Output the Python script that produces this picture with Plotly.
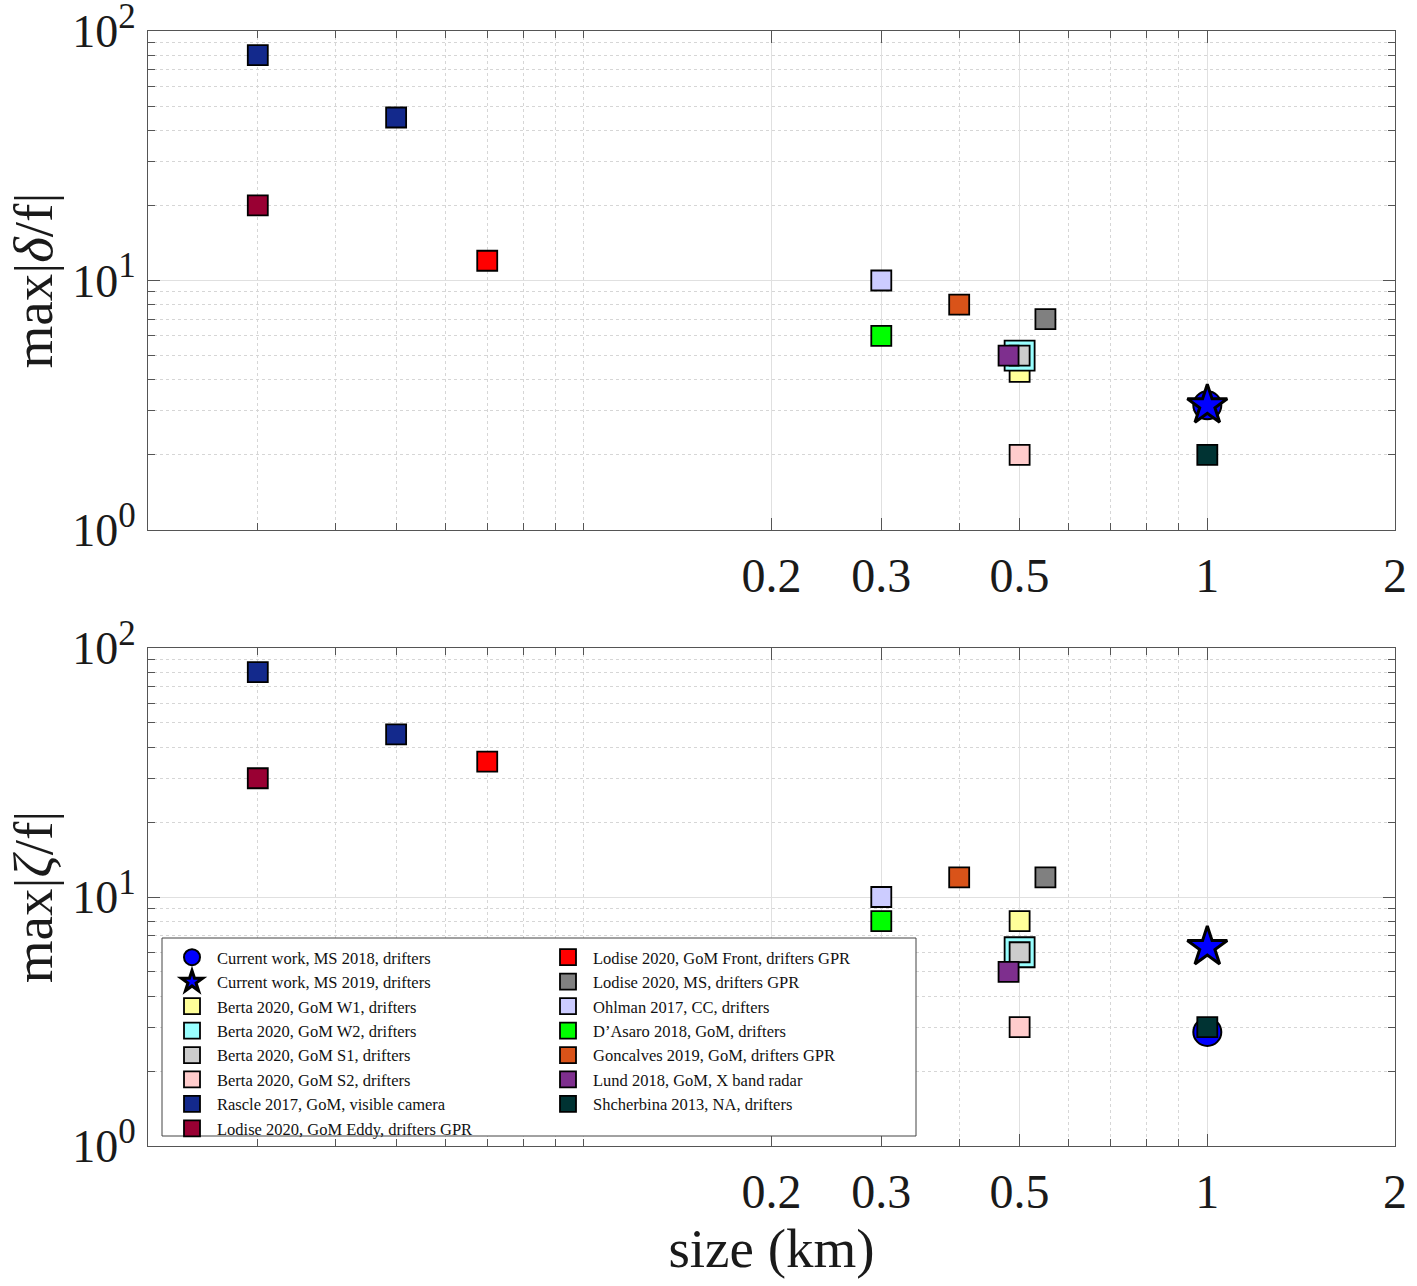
import numpy as np
import plotly.graph_objects as go
from plotly.subplots import make_subplots

# ---------------- data ----------------
studies = [
    "Current work, MS 2018, drifters",
    "Current work, MS 2019, drifters",
    "Berta 2020, GoM W1, drifters",
    "Berta 2020, GoM W2, drifters",
    "Berta 2020, GoM S1, drifters",
    "Berta 2020, GoM S2, drifters",
    "Rascle 2017, GoM, visible camera",
    "Lodise 2020, GoM Eddy, drifters GPR",
    "Lodise 2020, GoM Front, drifters GPR",
    "Lodise 2020, MS, drifters GPR",
    "Ohlman 2017, CC, drifters",
    "D\u2019Asaro 2018, GoM, drifters",
    "Goncalves 2019, GoM, drifters GPR",
    "Lund 2018, GoM, X band radar",
    "Shcherbina 2013, NA, drifters",
]
size_km = [
    [1.0], [1.0], [0.5], [0.5], [0.5], [0.5], [0.03, 0.05], [0.03],
    [0.07], [0.55], [0.3], [0.3], [0.4], [0.48], [1.0],
]
max_div = [
    [3.16], [3.16], [4.3], [5.0], [5.0], [2.0], [80, 45], [20],
    [12], [7.0], [10], [6.0], [8.0], [5.0], [2.0],
]
max_vort = [
    [2.87], [6.3], [8.0], [6.0], [6.0], [3.0], [80, 45], [30],
    [35], [12], [10], [8.0], [12], [5.0], [3.0],
]
x_tick_vals = [0.2, 0.3, 0.5, 1, 2]
x_tick_text = ["0.2", "0.3", "0.5", "1", "2"]
y_tick_vals = [1, 10, 100]
y_exponents = ["0", "1", "2"]

# ---------------- styles ----------------
colors = ["#0000ff", "#0000ff", "#ffff99", "#99ffff", "#cccccc", "#ffcccc",
          "#13298c", "#990033", "#ff0000", "#808080", "#ccccff", "#00ff00",
          "#d95319", "#7e2f8e", "#003333"]
symbols = ["circle", "star"] + ["square"] * 13
msizes = [28, 30, 20, 30, 20, 20, 20, 20, 20, 20, 20, 20, 20, 20, 20]
lwidths = [2, 3] + [1.8] * 13

FONT = "Liberation Serif"
TXT = "#1a1a1a"
y_tick_text = ["10<sup><span style='font-size:35px'>%s</span></sup>" % e
               for e in y_exponents]

fig = make_subplots(rows=2, cols=1, vertical_spacing=0.1)

for i, name in enumerate(studies):
    leg = "legend" if i < 8 else "legend2"
    for row, vals in ((1, max_div[i]), (2, max_vort[i])):
        fig.add_trace(go.Scatter(
            x=size_km[i], y=vals, mode="markers", name=name,
            legendgroup=name, showlegend=(row == 2), legend=leg,
            marker=dict(symbol=symbols[i], size=msizes[i], color=colors[i],
                        line=dict(color="#000000", width=lwidths[i])),
        ), row=row, col=1)

axis_line = "#555555"
minor_x = [0.03, 0.04, 0.05, 0.06, 0.07, 0.08, 0.09, 0.1, 0.4, 0.6, 0.7, 0.8, 0.9]
minor_y = [2, 3, 4, 5, 6, 7, 8, 9, 20, 30, 40, 50, 60, 70, 80, 90]

xcommon = dict(
    type="log", range=[np.log10(0.02), np.log10(2)],
    tickmode="array", tickvals=x_tick_vals, ticktext=x_tick_text,
    ticks="inside", ticklen=12, tickwidth=1, tickcolor=axis_line,
    showline=True, linecolor=axis_line, linewidth=1, mirror="ticks",
    showgrid=True, gridcolor="#e0e0e0", gridwidth=1,
    zeroline=False,
    tickfont=dict(family=FONT, size=48, color=TXT),
    ticklabelstandoff=3, ticklabeloverflow="allow",
    minor=dict(tickmode="array", tickvals=minor_x, ticks="inside", ticklen=7,
               tickcolor=axis_line, showgrid=True, gridcolor="#d6d6d6",
               griddash="dot", gridwidth=1),
)
ycommon = dict(
    type="log", range=[0, 2],
    tickmode="array", tickvals=y_tick_vals, ticktext=y_tick_text,
    ticks="inside", ticklen=12, tickwidth=1, tickcolor=axis_line,
    showline=True, linecolor=axis_line, linewidth=1, mirror="ticks",
    showgrid=True, gridcolor="#e0e0e0", gridwidth=1,
    zeroline=False,
    tickfont=dict(family=FONT, size=46, color=TXT),
    ticklabelstandoff=2, ticklabeloverflow="allow",
    minor=dict(tickmode="array", tickvals=minor_y, ticks="inside", ticklen=7,
               tickcolor=axis_line, showgrid=True, gridcolor="#d6d6d6",
               griddash="dot", gridwidth=1),
)

fig.update_xaxes(**xcommon)
fig.update_yaxes(**ycommon)
fig.update_layout(
    xaxis=dict(domain=[0, 1]),
    xaxis2=dict(domain=[0, 1],
                title=dict(text="size (km)", standoff=8,
                           font=dict(family=FONT, size=55, color=TXT))),
    yaxis=dict(domain=[0.5525, 1],
               title=dict(text="max|<i>\u03b4</i>/f|", standoff=2,
                          font=dict(family=FONT, size=55, color=TXT))),
    yaxis2=dict(domain=[0, 0.4466],
                title=dict(text="max|<i>\u03b6</i>/f|", standoff=2,
                           font=dict(family=FONT, size=55, color=TXT))),
)

# legend box
PX0, PW, PY1, PH = 148, 1247, 1146, 1115
fig.add_shape(type="rect", xref="paper", yref="paper",
              x0=(162 - PX0) / PW, x1=(916 - PX0) / PW,
              y0=(PY1 - 1136) / PH, y1=(PY1 - 938) / PH,
              fillcolor="white", line=dict(color="#444444", width=1),
              layer="above")

legfont = dict(family=FONT, size=16.5, color="#111111")
fig.update_layout(
    width=1417, height=1286,
    margin=dict(l=148, r=22, t=31, b=140, autoexpand=False),
    paper_bgcolor="white", plot_bgcolor="white",
    font=dict(family=FONT),
    legend=dict(x=(167 - PX0) / PW, y=(PY1 - 940) / PH,
                xanchor="left", yanchor="top", bgcolor="rgba(0,0,0,0)",
                borderwidth=0, font=legfont, tracegroupgap=0, itemwidth=40),
    legend2=dict(x=(543 - PX0) / PW, y=(PY1 - 940) / PH,
                 xanchor="left", yanchor="top", bgcolor="rgba(0,0,0,0)",
                 borderwidth=0, font=legfont, tracegroupgap=0, itemwidth=40),
)

fig.write_html("out.html",
               config={"displayModeBar": False},
               post_script="document.body.style.margin='0';"
                           "document.body.style.padding='0';")
